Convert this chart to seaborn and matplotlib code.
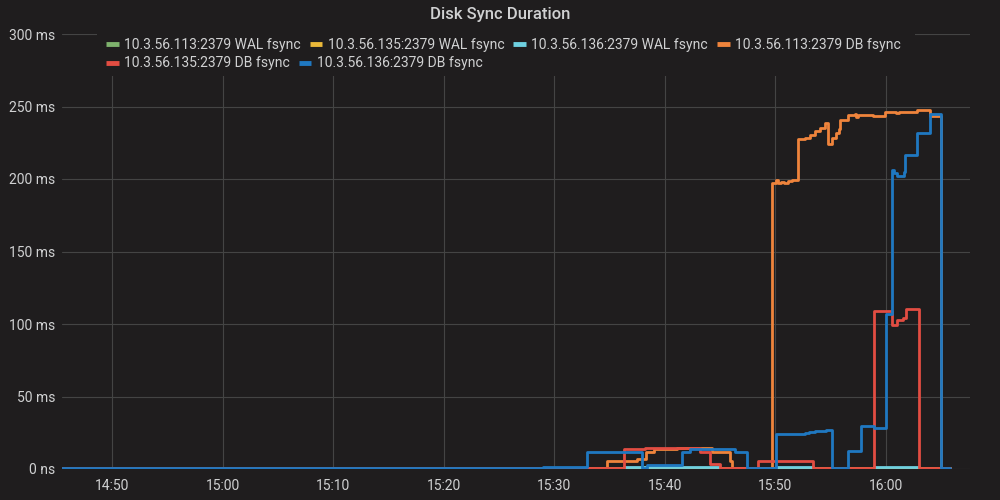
import matplotlib
matplotlib.use("Agg")
import matplotlib.pyplot as plt
import matplotlib.dates as mdates
from matplotlib.lines import Line2D
from matplotlib.patches import Rectangle
from matplotlib.ticker import FuncFormatter, MultipleLocator
import pandas as pd
import seaborn as sns

# ---- series data (time of change -> value in ms, drawn as steps) ----
series_names = [
    "10.3.56.113:2379 WAL fsync",
    "10.3.56.135:2379 WAL fsync",
    "10.3.56.136:2379 WAL fsync",
    "10.3.56.113:2379 DB fsync",
    "10.3.56.135:2379 DB fsync",
    "10.3.56.136:2379 DB fsync",
]
series_colors = ["#7EB26D", "#EAB839", "#6ED0E0", "#EF843C", "#E24D42", "#1F78C1"]

wal_113_t = ["14:45:30", "15:36:20", "15:45:00", "15:50:00", "15:53:30", "15:59:00", "16:03:00", "16:05:47"]
wal_113_v = [0.4, 0.8, 0.4, 0.9, 0.4, 0.8, 0.4, 0.4]

wal_135_t = ["14:45:30", "15:36:20", "15:45:00", "15:50:00", "15:53:30", "15:59:00", "16:03:00", "16:05:47"]
wal_135_v = [0.5, 0.9, 0.5, 1.0, 0.5, 0.9, 0.5, 0.5]

wal_136_t = ["14:45:30", "15:36:20", "15:45:00", "15:50:05", "15:53:26", "15:58:55", "16:03:00", "16:05:47"]
wal_136_v = [0.3, 1.2, 0.3, 1.2, 0.3, 1.1, 0.3, 0.3]

db_113_t = ["14:45:30", "15:34:46", "15:37:29", "15:38:16", "15:39:01", "15:41:04", "15:44:14",
            "15:45:53", "15:46:03", "15:49:40", "15:50:03", "15:50:14", "15:50:30", "15:50:46",
            "15:51:08", "15:51:30", "15:52:03", "15:52:41", "15:53:08", "15:53:35", "15:54:02",
            "15:54:29", "15:54:47", "15:55:07", "15:55:29", "15:55:47", "15:55:50", "15:56:35",
            "15:57:12", "15:57:18", "15:57:28", "15:58:51", "15:59:55", "16:00:54", "16:01:11",
            "16:02:50", "16:03:59", "16:04:59", "16:05:47"]
db_113_v = [0.5, 5.7, 6.7, 12.0, 13.6, 14.2, 12.0,
            5.7, 0.5, 197.0, 199.3, 197.5, 198.0, 197.0,
            198.5, 199.0, 227.4, 228.5, 230.5, 233.0, 235.5,
            238.9, 224.0, 228.0, 231.5, 234.3, 241.0, 244.0,
            245.0, 243.0, 244.0, 243.7, 246.4, 245.3, 246.0,
            247.6, 243.4, 0.5, 0.5]

db_135_t = ["14:45:30", "15:36:18", "15:38:12", "15:43:11", "15:44:05", "15:44:59", "15:48:27",
            "15:53:26", "15:58:55", "16:00:34", "16:00:58", "16:01:34", "16:01:47", "16:02:59",
            "16:05:47"]
db_135_v = [0.5, 13.6, 14.2, 12.0, 3.2, 0.5, 5.7,
            0.5, 109.0, 99.3, 102.8, 104.0, 110.3, 0.5,
            0.5]

db_136_t = ["14:45:30", "15:29:00", "15:32:56", "15:37:55", "15:38:23", "15:41:31", "15:42:16",
            "15:46:20", "15:47:24", "15:50:02", "15:52:41", "15:53:05", "15:53:35", "15:54:05",
            "15:54:35", "15:55:05", "15:56:35", "15:57:43", "15:58:55", "15:59:58", "16:00:35",
            "16:00:46", "16:00:59", "16:01:39", "16:01:44", "16:02:47", "16:03:59", "16:04:59",
            "16:05:47"]
db_136_v = [1.0, 1.2, 12.0, 1.0, 2.8, 12.0, 13.8,
            12.0, 1.0, 24.3, 24.8, 25.3, 25.9, 26.5,
            27.1, 1.0, 12.4, 29.6, 28.0, 106.7, 206.0,
            204.0, 202.0, 205.0, 216.5, 232.0, 244.6, 1.0,
            1.0]

times = [wal_113_t, wal_135_t, wal_136_t, db_113_t, db_135_t, db_136_t]
values = [wal_113_v, wal_135_v, wal_136_v, db_113_v, db_135_v, db_136_v]

day = "2019-06-12 "
frames = []
for name, t, v in zip(series_names, times, values):
    frames.append(pd.DataFrame({
        "time": pd.to_datetime([day + s for s in t]),
        "ms": v,
        "series": name,
    }))
df = pd.concat(frames, ignore_index=True)

# ---- styling ----
bg = "#1f1d1e"
grid_c = "#444444"
text_c = "#d0d1d2"

sns.set_theme(style="dark")
plt.rcParams["font.family"] = ["Roboto", "DejaVu Sans"]

fig = plt.figure(figsize=(10, 5), dpi=100, facecolor=bg)
ax = fig.add_axes([0.062, 0.062, 0.908, 0.87])
ax.set_facecolor(bg)

palette = dict(zip(series_names, series_colors))
sns.lineplot(data=df, x="time", y="ms", hue="series", hue_order=series_names,
             palette=palette, estimator=None, drawstyle="steps-post",
             linewidth=2.0, legend=False, ax=ax)

x0 = pd.Timestamp(day + "14:45:29")
x1 = pd.Timestamp(day + "16:07:36")
ax.set_xlim(x0, x1)
ax.set_ylim(0, 300)

ax.yaxis.set_major_locator(MultipleLocator(50))
ax.yaxis.set_major_formatter(FuncFormatter(lambda v, p: "0 ns" if v == 0 else f"{v:.0f} ms"))
ax.xaxis.set_major_locator(mdates.MinuteLocator(byminute=range(0, 60, 10)))
ax.xaxis.set_major_formatter(mdates.DateFormatter("%H:%M"))

ax.set_xlabel("")
ax.set_ylabel("")
ax.tick_params(axis="both", length=0, colors=text_c, labelsize=10)
ax.tick_params(axis="y", pad=5)
ax.tick_params(axis="x", pad=7)
for s in ax.spines.values():
    s.set_visible(False)
ax.grid(True, color=grid_c, linewidth=0.8)
ax.set_axisbelow(True)

# panel background behind the legend block hides the grid there
ax.add_patch(Rectangle((0.097, 0.848), 0.818, 0.094, transform=fig.transFigure,
                       facecolor=bg, edgecolor="none", zorder=1.2, clip_on=False))

fig.text(0.5, 0.972, "Disk Sync Duration", ha="center", va="center",
         color=text_c, fontsize=12, fontweight="medium")

handles = [Line2D([0], [0], color=c, lw=3.5, solid_capstyle="butt") for c in series_colors]
leg_kw = dict(frameon=False, handlelength=0.9, handletextpad=0.4, columnspacing=0.65,
              borderpad=0, borderaxespad=0, fontsize=10, labelcolor=text_c,
              bbox_transform=fig.transFigure, loc="center left")
leg1 = ax.legend(handles[:4], series_names[:4], ncol=4, bbox_to_anchor=(0.106, 0.910), **leg_kw)
ax.add_artist(leg1)
ax.legend(handles[4:], series_names[4:], ncol=2, bbox_to_anchor=(0.106, 0.873), **leg_kw)

fig.savefig("out.png", dpi=100, facecolor=bg)
